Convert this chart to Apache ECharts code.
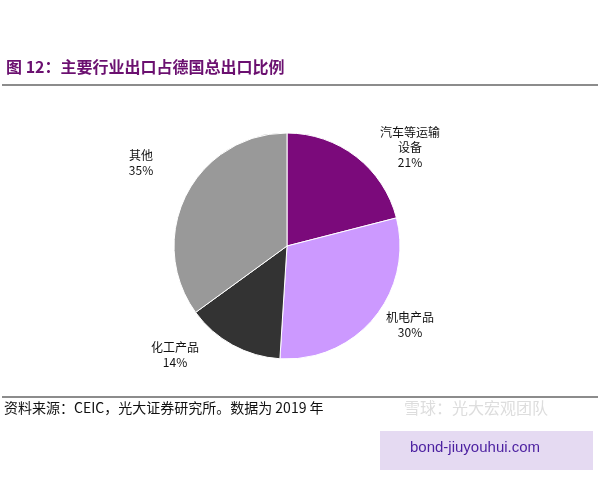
<!DOCTYPE html><html><head><meta charset="utf-8"><script src="https://cdn.jsdelivr.net/npm/echarts@6/dist/echarts.min.js"></script>
<style>body{margin:0;background:#fff}#c{width:600px;height:480px}</style></head><body><div id="c"></div><script>
const categories=['汽车等运输\n设备','机电产品','化工产品','其他'];
const values=[21,30,14,35];
const colors=['#7B0A7B','#CC99FF','#333333','#999999'];
const labelPos=[[410,147],[410,325],[175,355],[141,163]];
const chart=echarts.init(document.getElementById('c'));
const F='"Noto Sans CJK SC"';
chart.setOption({
 animation:false,
 graphic:[
  {type:'text',left:6,top:59,style:{text:'图 12：主要行业出口占德国总出口比例',font:'bold 16px '+F,fill:'#6B1070'}},
  {type:'line',shape:{x1:2,y1:85,x2:598,y2:85},style:{stroke:'#666',lineWidth:1.5}},
  {type:'line',shape:{x1:2,y1:397,x2:598,y2:397},style:{stroke:'#666',lineWidth:1.5}},
  {type:'text',left:4,top:401,style:{text:'资料来源：CEIC，光大证券研究所。数据为 2019 年',font:'14px '+F,fill:'#111'}},
  {type:'text',left:404,top:400,style:{text:'雪球：光大宏观团队',font:'16px '+F,fill:'#ddd'}},
  {type:'rect',shape:{x:380,y:431,width:213,height:39},style:{fill:'#E5DAF2'}},
  {type:'text',left:410,top:440,style:{text:'bond-jiuyouhui.com',font:'15px Arial',fill:'#4B1FA0'}}
 ],
 series:[{type:'pie',center:[287,246],radius:[0,113],startAngle:90,clockwise:true,
  data:categories.map((n,i)=>({name:n,value:values[i],itemStyle:{color:colors[i]}})),
  itemStyle:{borderColor:'#fff',borderWidth:1},
  label:{show:true,position:'outside',formatter:'{b}\n{c}%',color:'#111',fontSize:12,lineHeight:15,align:'center',fontFamily:F},
  labelLine:{show:false},
  labelLayout:p=>({x:labelPos[p.dataIndex][0],y:labelPos[p.dataIndex][1],align:'center',verticalAlign:'middle'})
 }]
});
</script></body></html>
